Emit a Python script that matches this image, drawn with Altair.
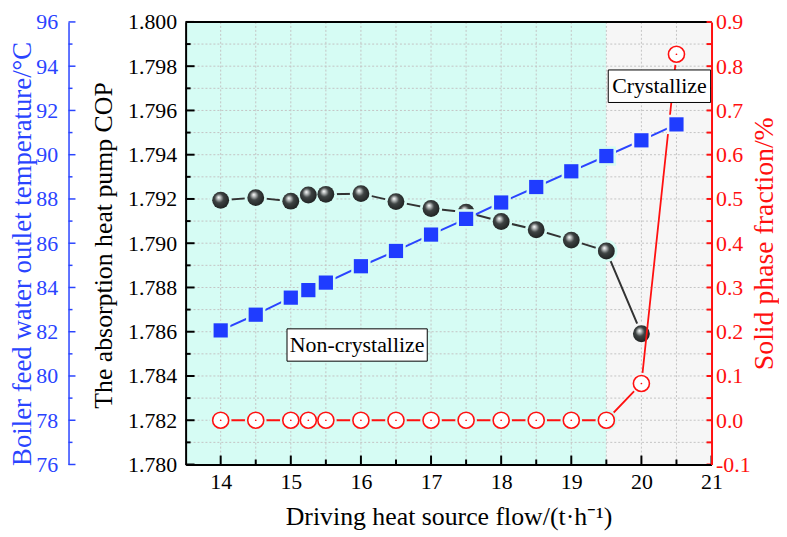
import altair as alt
import pandas as pd

# ---------------- data ----------------
flow = [14, 14.5, 15, 15.25, 15.5, 16, 16.5, 17, 17.5, 18, 18.5, 19, 19.5, 20, 20.5]
cop_flow = [14, 14.5, 15, 15.25, 15.5, 16, 16.5, 17, 17.5, 18, 18.5, 19, 19.5, 20]
cop = [1.79194, 1.79206, 1.79190, 1.79218, 1.79221, 1.79224, 1.79188, 1.79157,
       1.79140, 1.79098, 1.79061, 1.79014, 1.78965, 1.78591]
temp = [82.06, 82.77, 83.54, 83.88, 84.22, 84.96, 85.65, 86.39, 87.10, 87.84,
        88.54, 89.25, 89.94, 90.65, 91.37]
solid = [0.0, 0.0, 0.0, 0.0, 0.0, 0.0, 0.0, 0.0, 0.0, 0.0, 0.0, 0.0, 0.0, 0.083, 0.827]

region_start = [13.5, 19.5]
region_end = [19.5, 21.0]
region_color = ["#d6fcf4", "#f6f6f6"]
region_split = 19.5

x_major = [14, 15, 16, 17, 18, 19, 20, 21]
x_minor = [14.5, 15.5, 16.5, 17.5, 18.5, 19.5, 20.5]
cop_major = [1.780, 1.782, 1.784, 1.786, 1.788, 1.790, 1.792, 1.794, 1.796, 1.798, 1.800]
cop_minor = [1.781, 1.783, 1.785, 1.787, 1.789, 1.791, 1.793, 1.795, 1.797, 1.799]
temp_major = [76, 78, 80, 82, 84, 86, 88, 90, 92, 94, 96]
temp_minor = [77, 79, 81, 83, 85, 87, 89, 91, 93, 95]
solid_major = [-0.1, 0.0, 0.1, 0.2, 0.3, 0.4, 0.5, 0.6, 0.7, 0.8, 0.9]
solid_minor = [-0.05, 0.05, 0.15, 0.25, 0.35, 0.45, 0.55, 0.65, 0.75, 0.85]

ann_label = ["Non-crystallize", "Crystallize"]
ann_x = [15.946, 20.257]
ann_y = [1.78540, 1.79710]
ann_x1 = [14.946, 19.527]
ann_x2 = [16.946, 20.987]
ann_y1 = [1.78467, 1.79636]
ann_y2 = [1.78613, 1.79783]

# ---------------- styles ----------------
W, H = 530, 446
FONT = "Liberation Serif"
BLUE = "#2a44ff"
RED = "#ff1010"
GRID = "#c4c4c4"

xscale = alt.Scale(domain=[13.5, 21], nice=False, zero=False)
xaxis = alt.Axis(values=x_major, format="d", tickSize=0, labelPadding=7,
                 labelFont=FONT, labelFontSize=22, labelColor="black",
                 labelFlush=False, labelOverlap=False,
                 domainColor="black", domainWidth=2, grid=False, zindex=1,
                 title="Driving heat source flow/(t·h⁻¹)", titleFont=FONT,
                 titleFontSize=26, titleFontWeight="normal", titleColor="black",
                 titleX=W / 2, titleY=52, titleAlign="center", titleBaseline="middle")


def X(field):
    return alt.X(field, type="quantitative", scale=xscale, axis=xaxis)


copscale = alt.Scale(domain=[1.780, 1.800], nice=False, zero=False)
copaxis = alt.Axis(orient="left", values=cop_major, format=".3f", tickSize=0,
                   labelPadding=9, labelFont=FONT, labelFontSize=22,
                   labelColor="black", labelOverlap=False, labelFlush=False,
                   domainColor="black", domainWidth=2, grid=False, zindex=1,
                   title="The absorption heat pump COP", titleFont=FONT,
                   titleFontSize=26, titleFontWeight="normal", titleColor="black",
                   titleAngle=270, titleX=-83, titleY=H * 0.504, titleAlign="center",
                   titleBaseline="middle")


def YC(field):
    return alt.Y(field, type="quantitative", scale=copscale, axis=copaxis)


tscale = alt.Scale(domain=[76, 96], nice=False, zero=False)
taxis = alt.Axis(orient="left", offset=118, values=temp_major, format="d", tickSize=0,
                 labelPadding=11, labelFont=FONT, labelFontSize=22,
                 labelColor=BLUE, labelOverlap=False, labelFlush=False,
                 domainColor=BLUE, domainWidth=1.5, grid=False, zindex=1,
                 title="Boiler feed water outlet temperature/°C", titleFont=FONT,
                 titleFontSize=27, titleFontWeight="normal", titleColor=BLUE,
                 titleAngle=270, titleX=-46, titleY=H * 0.523, titleAlign="center",
                 titleBaseline="middle")


def YT(field):
    return alt.Y(field, type="quantitative", scale=tscale, axis=taxis)


sscale = alt.Scale(domain=[-0.1, 0.9], nice=False, zero=False)
saxis = alt.Axis(orient="right", values=solid_major, tickSize=0,
                 labelExpr="replace(format(datum.value, '.1f'), '\u2212', '-')",
                 labelPadding=4, labelFont=FONT, labelFontSize=22,
                 labelColor=RED, labelOverlap=False, labelFlush=False,
                 domainColor=RED, domainWidth=2, grid=False, zindex=1,
                 title="Solid phase fraction/%", titleFont=FONT,
                 titleFontSize=28, titleFontWeight="normal", titleColor=RED,
                 titleAngle=270, titleX=53, titleY=H / 2, titleAlign="center",
                 titleBaseline="middle")


def YS(field):
    return alt.Y(field, type="quantitative", scale=sscale, axis=saxis)


halo_color = alt.condition(f"datum.flow > {region_split}",
                           alt.value(region_color[1]), alt.value(region_color[0]))

# ---------------- tables ----------------
regions = pd.DataFrame({"start": region_start, "end": region_end, "color": region_color})
vgrid = pd.DataFrame({"v": x_major[:-1] + x_minor})
hgrid = pd.DataFrame({"v": cop_major[1:-1] + cop_minor})
xmaj = pd.DataFrame({"v": x_major})
xmin = pd.DataFrame({"v": x_minor})
cmaj = pd.DataFrame({"v": cop_major})
cmin = pd.DataFrame({"v": cop_minor})
tmaj = pd.DataFrame({"v": temp_major})
tmin = pd.DataFrame({"v": temp_minor})
smaj = pd.DataFrame({"v": solid_major})
smin = pd.DataFrame({"v": solid_minor})
cop_df = pd.DataFrame({"flow": cop_flow, "cop": cop})
t_df = pd.DataFrame({"flow": flow, "temp": temp})
s_df = pd.DataFrame({"flow": flow, "solid": solid})
ann_df = pd.DataFrame({"label": ann_label, "x": ann_x, "y": ann_y,
                       "x1": ann_x1, "x2": ann_x2, "y1": ann_y1, "y2": ann_y2})
one = pd.DataFrame({"a": [0]})

# ---------------- COP layer ----------------
bg = alt.Chart(regions).mark_rect().encode(
    x=X("start"), x2="end", color=alt.Color("color:N", scale=None))

vg = alt.Chart(vgrid).mark_rule(stroke=GRID, strokeWidth=1, strokeDash=[2, 2]).encode(x=X("v"))
hg = alt.Chart(hgrid).mark_rule(stroke=GRID, strokeWidth=1, strokeDash=[2, 2]).encode(y=YC("v"))

xt_maj = alt.Chart(xmaj).mark_rule(stroke="black", strokeWidth=2).encode(
    x=X("v"), y=alt.value(H), y2=alt.value(H - 9))
xt_min = alt.Chart(xmin).mark_rule(stroke="black", strokeWidth=2).encode(
    x=X("v"), y=alt.value(H), y2=alt.value(H - 5))
ct_maj = alt.Chart(cmaj).mark_rule(stroke="black", strokeWidth=2).encode(
    y=YC("v"), x=alt.value(0), x2=alt.value(9))
ct_min = alt.Chart(cmin).mark_rule(stroke="black", strokeWidth=2).encode(
    y=YC("v"), x=alt.value(0), x2=alt.value(5))
top = alt.Chart(one).mark_rule(stroke="black", strokeWidth=2).encode(
    x=alt.value(0), x2=alt.value(W), y=alt.value(0))

sphere = alt.RadialGradient(
    gradient="radial", x1=0.38, y1=0.32, r1=0.0, x2=0.45, y2=0.45, r2=0.6,
    stops=[alt.GradientStop(offset=0.0, color="#ffffff"),
           alt.GradientStop(offset=0.18, color="#b8bcbc"),
           alt.GradientStop(offset=0.45, color="#3e4343"),
           alt.GradientStop(offset=1.0, color="#1c1f1f")])

cop_line = alt.Chart(cop_df).mark_line(stroke="#333333", strokeWidth=2).encode(
    x=X("flow"), y=YC("cop"))
cop_halo = alt.Chart(cop_df).mark_point(shape="circle", filled=True, size=500,
                                        opacity=1, strokeWidth=0).encode(
    x=X("flow"), y=YC("cop"), color=halo_color)
cop_pts = alt.Chart(cop_df).mark_point(shape="circle", filled=True, size=289,
                                       fill=sphere, opacity=1, strokeWidth=0).encode(
    x=X("flow"), y=YC("cop"))

cop_layer = alt.layer(bg, vg, hg, cop_line, cop_halo, cop_pts,
                      xt_maj, xt_min, ct_maj, ct_min, top)

# ---------------- temperature layer ----------------
t_line = alt.Chart(t_df).mark_line(stroke=BLUE, strokeWidth=2).encode(x=X("flow"), y=YT("temp"))
t_halo = alt.Chart(t_df).mark_square(size=380, opacity=1).encode(
    x=X("flow"), y=YT("temp"), color=halo_color)
t_pts = alt.Chart(t_df).mark_square(size=205, color="#1f3cff", opacity=1).encode(
    x=X("flow"), y=YT("temp"))
tt_maj = alt.Chart(tmaj).mark_rule(stroke=BLUE, strokeWidth=1.5).encode(
    y=YT("v"), x=alt.value(-118), x2=alt.value(-111))
tt_min = alt.Chart(tmin).mark_rule(stroke=BLUE, strokeWidth=1.5).encode(
    y=YT("v"), x=alt.value(-118), x2=alt.value(-114))
t_layer = alt.layer(tt_maj, tt_min, t_line, t_halo, t_pts)

# ---------------- solid fraction layer ----------------
s_line = alt.Chart(s_df).mark_line(stroke=RED, strokeWidth=1.8).encode(x=X("flow"), y=YS("solid"))
s_halo = alt.Chart(s_df).mark_point(shape="circle", filled=True, size=470,
                                    opacity=1, strokeWidth=0).encode(
    x=X("flow"), y=YS("solid"), color=halo_color)
s_pts = alt.Chart(s_df).mark_point(shape="circle", filled=True, size=262, fill="white",
                                   stroke=RED, strokeWidth=1.6, opacity=1).encode(
    x=X("flow"), y=YS("solid"))
s_dot = alt.Chart(s_df).mark_point(shape="circle", filled=True, size=3, color=RED,
                                   opacity=1).encode(x=X("flow"), y=YS("solid"))
st_maj = alt.Chart(smaj).mark_rule(stroke=RED, strokeWidth=2).encode(
    y=YS("v"), x=alt.value(W), x2=alt.value(W - 5))
st_min = alt.Chart(smin).mark_rule(stroke=RED, strokeWidth=2).encode(
    y=YS("v"), x=alt.value(W), x2=alt.value(W - 5))
s_layer = alt.layer(st_maj, st_min, s_line, s_halo, s_pts, s_dot)

# ---------------- annotations ----------------
annscale = alt.Scale(domain=[1.780, 1.800], nice=False, zero=False)
boxes = alt.Chart(ann_df).mark_rect(fill="white", stroke="black", strokeWidth=1).encode(
    x=X("x1"), x2="x2",
    y=alt.Y("y1:Q", scale=annscale, axis=None), y2="y2")
texts = alt.Chart(ann_df).mark_text(font=FONT, fontSize=22, color="black",
                                    align="center", baseline="middle").encode(
    x=X("x"), y=alt.Y("y:Q", scale=annscale, axis=None), text="label:N")
ann_layer = alt.layer(boxes, texts)

chart = alt.layer(cop_layer, s_layer, t_layer, ann_layer).resolve_scale(
    y="independent"
).properties(
    width=W, height=H,
    autosize=alt.AutoSizeParams(type="none"),
    padding={"left": 179, "top": 12, "right": 68, "bottom": 68},
    background="white",
).configure_view(stroke="transparent")

chart.save("out.html", embed_options={"renderer": "svg", "actions": False})
